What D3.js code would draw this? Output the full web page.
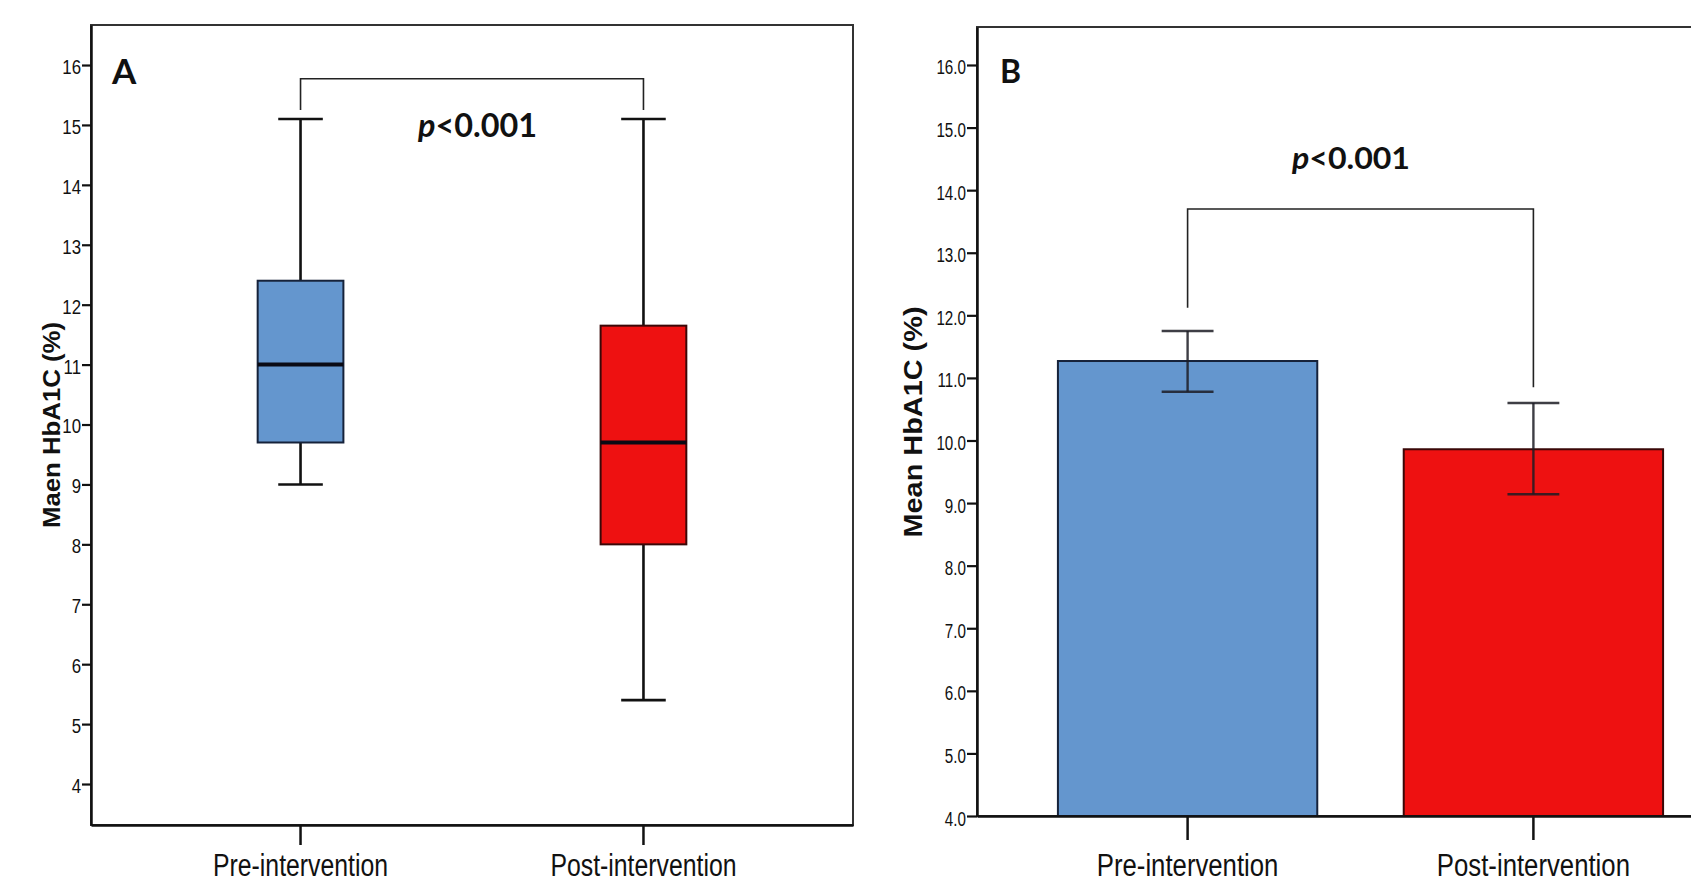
<!DOCTYPE html>
<html>
<head>
<meta charset="utf-8">
<script src="https://cdn.jsdelivr.net/npm/d3@7"></script>
<style>
  body { margin: 0; background: #fff; }
  svg { display: block; }
  text { font-family: "Liberation Sans", Arial, sans-serif; fill: #111; }
</style>
</head>
<body>
<div id="chart"></div>
<script>
const groups = ["Pre-intervention", "Post-intervention"];

// panel A - box plot of HbA1C
const boxMin = [9.0, 5.4];
const boxQ1 = [9.7, 8.0];
const boxMedian = [11.0, 9.7];
const boxQ3 = [12.4, 11.65];
const boxMax = [15.1, 15.1];
const ticksA = [4, 5, 6, 7, 8, 9, 10, 11, 12, 13, 14, 15, 16];

// panel B - mean with error bars
const barMean = [11.27, 9.86];
const barLow = [10.78, 9.14];
const barHigh = [11.75, 10.6];
const ticksB = [4, 5, 6, 7, 8, 9, 10, 11, 12, 13, 14, 15, 16];

// significance brackets (top value, leg ends)
const bracketA = 15.77, legA = [15.25, 15.25];
const bracketB = 13.7, legB = [12.12, 10.85];
const pValue = "<0.001";

const fills = ["#6496ce", "#ee1111"];
const edges = ["#16223a", "#3a0808"];

const W = 1691, H = 883;
const svg = d3.select("#chart").append("svg")
  .attr("width", W)
  .attr("height", H);

function squeeze(sel, f) {
  sel.each(function() {
    const w = this.getComputedTextLength();
    d3.select(this).attr("textLength", w * f).attr("lengthAdjust", "spacingAndGlyphs");
  });
}

// ---------- panel A ----------
const a = { left: 91, right: 853, top: 25, bottom: 825 };
const yA = d3.scaleLinear().domain([3.316, 16.668]).range([a.bottom, a.top]);
const xA = d3.scaleBand().domain(groups).range([a.left, a.right])
  .paddingInner(0.75).paddingOuter(0.486);

const gA = svg.append("g");

// frame
gA.append("rect")
  .attr("x", a.left).attr("y", a.top)
  .attr("width", a.right - a.left).attr("height", a.bottom - a.top)
  .attr("fill", "none").attr("stroke", "#333").attr("stroke-width", 2);

const axA = gA.append("g")
  .attr("transform", `translate(${a.left},0)`)
  .call(d3.axisLeft(yA).tickValues(ticksA).tickSize(9).tickSizeOuter(0).tickPadding(1).tickFormat(d3.format("d")));
axA.select(".domain").attr("stroke", "#111").attr("stroke-width", 2.5);
axA.selectAll(".tick line").attr("stroke", "#111").attr("stroke-width", 2.2);
axA.selectAll(".tick text").attr("font-size", 20).attr("dy", "0.42em")
  .style("font-family", "'Liberation Sans', Arial, sans-serif").attr("fill", "#000");
squeeze(axA.selectAll(".tick text"), 0.84);

const bxA = gA.append("g")
  .attr("transform", `translate(0,${a.bottom})`)
  .call(d3.axisBottom(xA).tickSize(20).tickSizeOuter(0));
bxA.select(".domain").attr("stroke", "#111").attr("stroke-width", 2.5);
bxA.selectAll(".tick line").attr("stroke", "#111").attr("stroke-width", 2.5);
bxA.selectAll(".tick text").attr("font-size", 31).attr("y", 51).attr("dy", 0)
  .style("font-family", "'Liberation Sans', Arial, sans-serif").attr("fill", "#111");
squeeze(bxA.selectAll(".tick text"), 0.80);

// whiskers
const boxes = groups.map((g, i) => ({
  g, i, min: boxMin[i], q1: boxQ1[i], med: boxMedian[i], q3: boxQ3[i], max: boxMax[i]
}));
const cx = d => xA(d.g) + xA.bandwidth() / 2;
const capA = xA.bandwidth() * 0.26;

gA.selectAll(".whisker").data(boxes).enter().append("line")
  .attr("x1", cx).attr("x2", cx)
  .attr("y1", d => yA(d.min)).attr("y2", d => yA(d.max))
  .attr("stroke", "#111").attr("stroke-width", 2.6);
gA.selectAll(".capTop").data(boxes).enter().append("line")
  .attr("x1", d => cx(d) - capA).attr("x2", d => cx(d) + capA)
  .attr("y1", d => yA(d.max)).attr("y2", d => yA(d.max))
  .attr("stroke", "#111").attr("stroke-width", 2.6);
gA.selectAll(".capBot").data(boxes).enter().append("line")
  .attr("x1", d => cx(d) - capA).attr("x2", d => cx(d) + capA)
  .attr("y1", d => yA(d.min)).attr("y2", d => yA(d.min))
  .attr("stroke", "#111").attr("stroke-width", 2.6);
gA.selectAll(".box").data(boxes).enter().append("rect")
  .attr("x", d => xA(d.g)).attr("width", xA.bandwidth())
  .attr("y", d => yA(d.q3)).attr("height", d => yA(d.q1) - yA(d.q3))
  .attr("fill", d => fills[d.i]).attr("stroke", d => edges[d.i]).attr("stroke-width", 2);
gA.selectAll(".median").data(boxes).enter().append("line")
  .attr("x1", d => xA(d.g)).attr("x2", d => xA(d.g) + xA.bandwidth())
  .attr("y1", d => yA(d.med)).attr("y2", d => yA(d.med))
  .attr("stroke", "#0a0a14").attr("stroke-width", 4);

// bracket
gA.append("path")
  .attr("d", `M${cx(boxes[0])},${yA(legA[0])}V${yA(bracketA)}H${cx(boxes[1])}V${yA(legA[1])}`)
  .attr("fill", "none").attr("stroke", "#222").attr("stroke-width", 1.6);

const pA = gA.append("text").attr("x", 418).attr("y", 137)
  .style("font-family", "Lato, 'Open Sans', sans-serif").attr("font-weight", "bold").attr("font-size", 32)
  .attr("textLength", 119).attr("lengthAdjust", "spacingAndGlyphs");
pA.append("tspan").attr("font-style", "italic").text("p");
pA.append("tspan").text(pValue);

gA.append("text").attr("x", 112).attr("y", 84)
  .style("font-family", "Lato, 'Open Sans', sans-serif").attr("font-weight", "bold").attr("font-size", 35)
  .text("A");

gA.append("text")
  .attr("transform", `translate(60,425) rotate(-90)`)
  .attr("text-anchor", "middle").attr("font-weight", "bold").attr("font-size", 24)
  .attr("textLength", 206).attr("lengthAdjust", "spacingAndGlyphs")
  .text("Maen HbA1C (%)");

// ---------- panel B ----------
const b = { left: 977, right: 1744, top: 27, bottom: 816 };
const yB = d3.scaleLinear().domain([4, 16.607]).range([b.bottom, b.top]);
const xB = d3.scaleBand().domain(groups).range([b.left, b.right])
  .paddingInner(0.25).paddingOuter(0.234);

const gB = svg.append("g");

gB.append("rect")
  .attr("x", b.left).attr("y", b.top)
  .attr("width", b.right - b.left).attr("height", b.bottom - b.top)
  .attr("fill", "none").attr("stroke", "#333").attr("stroke-width", 2);

const bars = groups.map((g, i) => ({ g, i, mean: barMean[i], lo: barLow[i], hi: barHigh[i] }));
const bx = d => xB(d.g) + xB.bandwidth() / 2;
const capB = xB.bandwidth() * 0.1;

gB.selectAll(".bar").data(bars).enter().append("rect")
  .attr("x", d => xB(d.g)).attr("width", xB.bandwidth())
  .attr("y", d => yB(d.mean)).attr("height", d => yB(4) - yB(d.mean))
  .attr("fill", d => fills[d.i]).attr("stroke", d => edges[d.i]).attr("stroke-width", 2);

gB.selectAll(".err").data(bars).enter().append("line")
  .attr("x1", bx).attr("x2", bx)
  .attr("y1", d => yB(d.lo)).attr("y2", d => yB(d.hi))
  .attr("stroke", "#1c1c24").attr("stroke-width", 2.4).attr("stroke-opacity", 0.85);
gB.selectAll(".errTop").data(bars).enter().append("line")
  .attr("x1", d => bx(d) - capB).attr("x2", d => bx(d) + capB)
  .attr("y1", d => yB(d.hi)).attr("y2", d => yB(d.hi))
  .attr("stroke", "#1c1c24").attr("stroke-width", 2.6).attr("stroke-opacity", 0.85);
gB.selectAll(".errBot").data(bars).enter().append("line")
  .attr("x1", d => bx(d) - capB).attr("x2", d => bx(d) + capB)
  .attr("y1", d => yB(d.lo)).attr("y2", d => yB(d.lo))
  .attr("stroke", "#1c1c24").attr("stroke-width", 2.6).attr("stroke-opacity", 0.85);

const axB = gB.append("g")
  .attr("transform", `translate(${b.left},0)`)
  .call(d3.axisLeft(yB).tickValues(ticksB).tickSize(10).tickSizeOuter(0).tickPadding(1).tickFormat(d3.format(".1f")));
axB.select(".domain").attr("stroke", "#111").attr("stroke-width", 2.5);
axB.selectAll(".tick line").attr("stroke", "#111").attr("stroke-width", 2.2);
axB.selectAll(".tick text").attr("font-size", 20).attr("dy", "0.45em")
  .style("font-family", "'Liberation Sans', Arial, sans-serif").attr("fill", "#000");
squeeze(axB.selectAll(".tick text"), 0.76);

const bxB = gB.append("g")
  .attr("transform", `translate(0,${b.bottom})`)
  .call(d3.axisBottom(xB).tickSize(24).tickSizeOuter(0));
bxB.select(".domain").attr("stroke", "#111").attr("stroke-width", 2.5);
bxB.selectAll(".tick line").attr("stroke", "#111").attr("stroke-width", 2.5);
bxB.selectAll(".tick text").attr("font-size", 31).attr("y", 60).attr("dy", 0)
  .style("font-family", "'Liberation Sans', Arial, sans-serif").attr("fill", "#111");
squeeze(bxB.selectAll(".tick text"), 0.83);

gB.append("path")
  .attr("d", `M${bx(bars[0])},${yB(legB[0])}V${yB(bracketB)}H${bx(bars[1])}V${yB(legB[1])}`)
  .attr("fill", "none").attr("stroke", "#222").attr("stroke-width", 1.6);

const pB = gB.append("text").attr("x", 1292).attr("y", 169)
  .style("font-family", "Lato, 'Open Sans', sans-serif").attr("font-weight", "bold").attr("font-size", 31)
  .attr("textLength", 118).attr("lengthAdjust", "spacingAndGlyphs");
pB.append("tspan").attr("font-style", "italic").text("p");
pB.append("tspan").text(pValue);

gB.append("text").attr("x", 1000).attr("y", 83)
  .style("font-family", "Lato, 'Open Sans', sans-serif").attr("font-weight", "bold").attr("font-size", 32)
  .text("B");

gB.append("text")
  .attr("transform", `translate(922,422) rotate(-90)`)
  .attr("text-anchor", "middle").attr("font-weight", "bold").attr("font-size", 26)
  .attr("textLength", 231).attr("lengthAdjust", "spacingAndGlyphs")
  .text("Mean HbA1C (%)");
</script>
</body>
</html>
